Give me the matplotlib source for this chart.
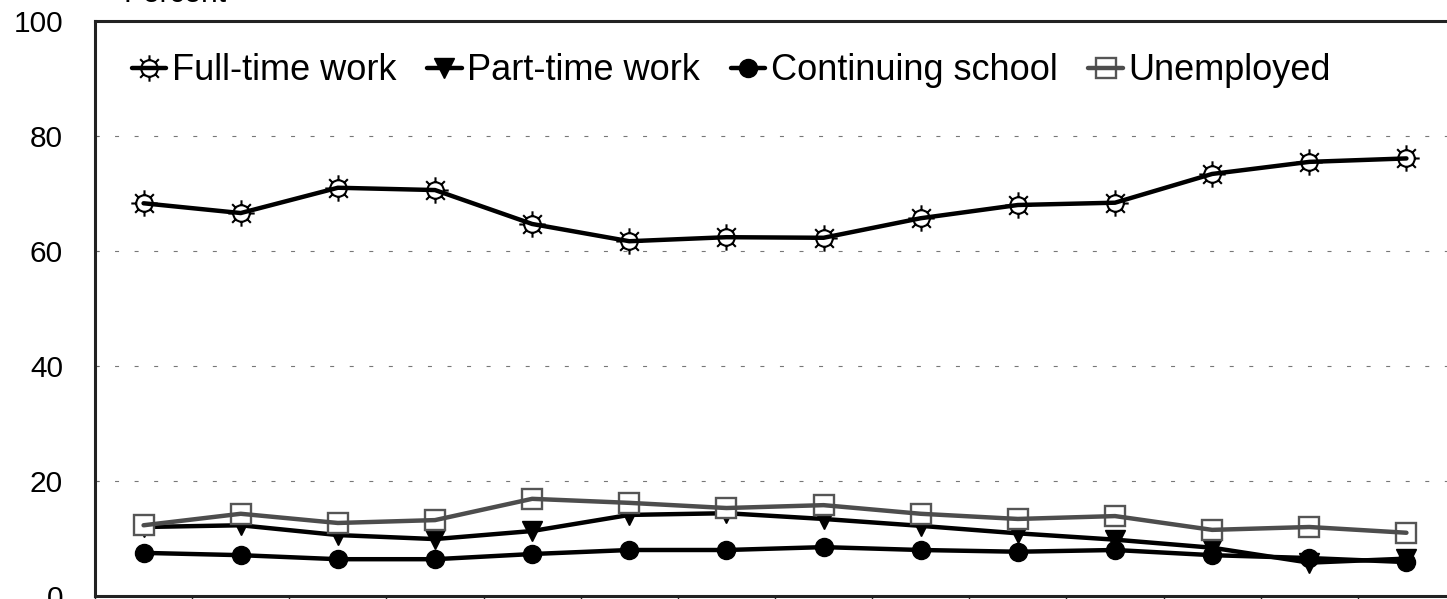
import numpy as np
import matplotlib.pyplot as plt
from matplotlib.path import Path
from matplotlib.legend_handler import HandlerTuple

plt.rcParams['font.family'] = ['Liberation Sans', 'DejaVu Sans']

# percent of graduates by outcome, one value per cohort
full_time = [68.3, 66.6, 71.0, 70.6, 64.7, 61.7, 62.4, 62.3, 65.7, 68.0, 68.4, 73.4, 75.5, 76.1]
part_time = [12.0, 12.3, 10.6, 9.9, 11.3, 14.1, 14.4, 13.4, 12.2, 10.9, 9.8, 8.4, 5.8, 6.5]
school = [7.5, 7.1, 6.4, 6.4, 7.3, 8.0, 8.0, 8.5, 8.0, 7.7, 8.0, 7.1, 6.6, 5.9]
unemployed = [12.3, 14.3, 12.7, 13.2, 16.9, 16.2, 15.3, 15.8, 14.3, 13.4, 13.9, 11.5, 12.0, 11.0]
labels = ["Full-time work", "Part-time work", "Continuing school", "Unemployed"]
yticks = [0, 20, 40, 60, 80, 100]


def sun_marker(ray=1.6):
    # open circle with eight short rays
    circ = Path.unit_circle()
    verts = list(circ.vertices)
    codes = list(circ.codes)
    for a in np.arange(8) * np.pi / 4:
        verts += [(np.cos(a), np.sin(a)), (ray * np.cos(a), ray * np.sin(a))]
        codes += [Path.MOVETO, Path.LINETO]
    return Path(verts, codes)


W, H = 1447, 599
fig = plt.figure(figsize=(W / 100, H / 100), dpi=100)
ax = fig.add_axes([95 / W, 3 / H, 1360 / W, 575 / H])

x = np.arange(len(full_time))
series = [
    (full_time, dict(marker=sun_marker(), ms=19, mfc='white', mec='black', mew=1.5), 'black'),
    (part_time, dict(marker='v', ms=14, mfc='black', mec='black', mew=1), 'black'),
    (school, dict(marker='o', ms=13, mfc='black', mec='black', mew=1), 'black'),
    (unemployed, dict(marker='s', ms=14.5, mfc='white', mec='#555555', mew=1.7), '#4d4d4d'),
]

handles = []
for i, (vals, mk, col) in enumerate(series):
    m, = ax.plot(x, vals, ls='none', zorder=3 + 2 * i, **mk)
    l, = ax.plot(x, vals, color=col, lw=3.2, zorder=4 + 2 * i, solid_capstyle='round')
    handles.append((m, l))

ax.set_xlim(-0.5, len(x) - 0.5)
ax.set_ylim(0, 100)
ax.set_yticks(yticks)
ax.set_xticks(np.arange(len(x) + 1) - 0.5)
ax.set_xticklabels([])
ax.tick_params(axis='y', direction='in', length=3, width=0.8, color='#666666',
               labelsize=21.5, pad=23)
ax.tick_params(axis='x', direction='out', length=6, width=1, color='#222222')

ax.yaxis.grid(True, color='#777777', lw=0.8, linestyle=(0, (3.6, 14)))
ax.set_axisbelow(True)

for side in ['left', 'top', 'bottom', 'right']:
    ax.spines[side].set_linewidth(2.2)
    ax.spines[side].set_color('#222222')

fig.legend(handles, labels, handler_map={tuple: HandlerTuple(ndivide=1)},
           loc='center left', bbox_to_anchor=(132 / W, 1 - 71 / H),
           ncol=4, frameon=False, fontsize=26, borderpad=0, borderaxespad=0,
           handlelength=0.95, handletextpad=0.16, columnspacing=0.85)

fig.text(123 / W, 1 - 1.5 / H, "Percent", fontsize=21.5, va='baseline', ha='left')

fig.savefig("out.png", dpi=100)
